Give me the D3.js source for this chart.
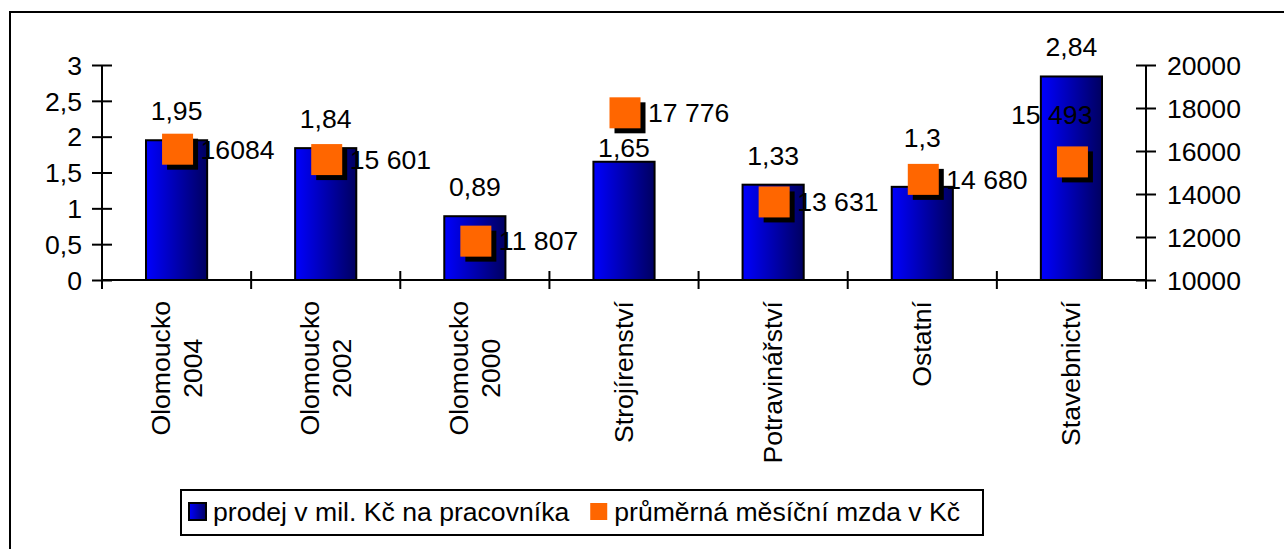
<!DOCTYPE html>
<html>
<head>
<meta charset="utf-8">
<script src="https://cdn.jsdelivr.net/npm/d3@7"></script>
<style>
  html, body { margin: 0; padding: 0; background: #fff; overflow: hidden; }
  svg text { font-family: "Liberation Sans", Arial, sans-serif; fill: #000; }
</style>
</head>
<body>
<div class="chart"></div>
<script>
// 데이터
const categories = ['Olomoucko\n2004', 'Olomoucko\n2002', 'Olomoucko\n2000', 'Strojírenství', 'Potravinářství', 'Ostatní', 'Stavebnictví'];
const sales = [1.95, 1.84, 0.89, 1.65, 1.33, 1.3, 2.84];
const wages = [16084, 15601, 11807, 17776, 13631, 14680, 15493];
const wageLabels = ['16084', '15 601', '11 807', '17 776', '13 631', '14 680', '15 493'];
const leftTicks = [0, 0.5, 1, 1.5, 2, 2.5, 3];
const rightTicks = [10000, 12000, 14000, 16000, 18000, 20000];
const seriesNames = ['prodej v mil. Kč na pracovníka', 'průměrná měsíční mzda v Kč'];

const W = 1284, H = 549;
const FontSize = 26.6;
const plot = {left: 102, right: 1146, top: 65, bottom: 280};
const markerSize = 31, shadowOff = 5;

const svg = d3.select('.chart').append('svg')
  .attr('width', W)
  .attr('height', H);

// 그라데이션 (막대)
const grad = svg.append('defs').append('linearGradient')
  .attr('id', 'barGrad')
  .attr('x1', '0%').attr('x2', '100%').attr('y1', '0%').attr('y2', '0%');
grad.append('stop').attr('offset', '0%').attr('stop-color', '#0000ff');
grad.append('stop').attr('offset', '100%').attr('stop-color', '#000060');

// 바깥 테두리
svg.append('rect')
  .attr('x', 10).attr('y', 12)
  .attr('width', W + 20).attr('height', H + 20)
  .attr('fill', 'none').attr('stroke', '#000').attr('stroke-width', 2);

/******************** 스케일 ********************/
const x = d3.scaleBand(d3.range(categories.length), [plot.left, plot.right]).padding(0);
const yL = d3.scaleLinear([0, 3], [plot.bottom, plot.top]);
const yR = d3.scaleLinear([10000, 20000], [plot.bottom, plot.top]);
const barW = x.bandwidth() * 0.41;
const cx = i => x(i) + x.bandwidth() / 2;

/******************** 막대 ********************/
svg.append('g')
  .selectAll('rect')
  .data(sales)
  .join('rect')
    .attr('x', (d, i) => cx(i) - barW / 2)
    .attr('y', d => yL(d))
    .attr('width', barW)
    .attr('height', d => yL(0) - yL(d))
    .attr('fill', 'url(#barGrad)')
    .attr('stroke', '#000')
    .attr('stroke-width', 2);

/******************** 축 ********************/
// x축 (눈금은 축을 가로지름)
const xAxis = svg.append('g');
xAxis.append('line')
  .attr('x1', plot.left).attr('x2', plot.right)
  .attr('y1', plot.bottom).attr('y2', plot.bottom)
  .attr('stroke', '#000').attr('stroke-width', 2);
xAxis.selectAll('line.tick')
  .data(d3.range(categories.length + 1))
  .join('line')
    .attr('class', 'tick')
    .attr('x1', i => plot.left + i * x.step())
    .attr('x2', i => plot.left + i * x.step())
    .attr('y1', plot.bottom - 9).attr('y2', plot.bottom + 9)
    .attr('stroke', '#000').attr('stroke-width', 2);

// 왼쪽 y축
svg.append('g')
    .attr('transform', `translate(${plot.left},0)`)
    .call(d3.axisLeft(yL).tickValues(leftTicks).tickSize(10).tickFormat(d => String(d).replace('.', ',')))
    .call(g => g.select('.domain').attr('d', `M0,${plot.top}V${plot.bottom + 9}`).attr('stroke-width', 2))
    .call(g => g.selectAll('.tick line').attr('x2', 10).attr('x1', -10).attr('stroke-width', 2))
    .call(g => g.selectAll('.tick text').attr('x', -20).attr('dy', '0.35em')
      .attr('font-size', FontSize).attr('font-family', null));

// 오른쪽 y축
svg.append('g')
    .attr('transform', `translate(${plot.right},0)`)
    .call(d3.axisRight(yR).tickValues(rightTicks).tickSize(10).tickFormat(d3.format('d')))
    .call(g => g.select('.domain').attr('d', `M0,${plot.top}V${plot.bottom + 9}`).attr('stroke-width', 2))
    .call(g => g.selectAll('.tick line').attr('x2', 10).attr('x1', -10).attr('stroke-width', 2))
    .call(g => g.selectAll('.tick text').attr('x', 21).attr('dy', '0.35em')
      .attr('font-size', FontSize).attr('font-family', null));

/******************** 범주 레이블 (세로) ********************/
const lineGap = 32;
categories.forEach((c, i) => {
  const lines = c.split('\n');
  const g = svg.append('g')
    .attr('transform', `translate(${cx(i)},301) rotate(-90)`);
  const texts = lines.map((l, k) => g.append('text')
    .attr('font-size', FontSize)
    .attr('text-anchor', 'middle')
    .attr('y', 9 + (k - (lines.length - 1) / 2) * lineGap)
    .text(l));
  const maxW = d3.max(texts, t => t.node().getComputedTextLength());
  texts.forEach(t => t.attr('x', -maxW / 2));
});

/******************** 마커 (그림자 + 사각형) ********************/
const markers = svg.append('g');
markers.selectAll('rect.shadow')
  .data(wages)
  .join('rect')
    .attr('class', 'shadow')
    .attr('x', (d, i) => cx(i) + 1 - markerSize / 2 + shadowOff)
    .attr('y', d => yR(d) - markerSize / 2 + shadowOff)
    .attr('width', markerSize).attr('height', markerSize)
    .attr('fill', '#000');
markers.selectAll('rect.mark')
  .data(wages)
  .join('rect')
    .attr('class', 'mark')
    .attr('x', (d, i) => cx(i) + 1 - markerSize / 2)
    .attr('y', d => yR(d) - markerSize / 2)
    .attr('width', markerSize).attr('height', markerSize)
    .attr('fill', '#ff6600');

/******************** 데이터 레이블 ********************/
// 마커 레이블: 오른쪽, 영역을 넘으면 위쪽
const wageText = svg.append('g').selectAll('text')
  .data(wageLabels)
  .join('text')
    .attr('font-size', FontSize)
    .attr('x', (d, i) => cx(i) + 24)
    .attr('y', (d, i) => yR(wages[i]))
    .attr('dy', '0.35em')
    .text(d => d);
wageText.each(function(d, i) {
  const w = this.getComputedTextLength();
  if (cx(i) + 24 + w > plot.right) {
    d3.select(this)
      .attr('text-anchor', 'end')
      .attr('x', cx(i) + 21)
      .attr('y', yR(wages[i]) - 38)
      .attr('dy', null);
  }
});

// 막대 레이블: 마커와 겹치면 위치 조정
svg.append('g').selectAll('text')
  .data(sales)
  .join('text')
    .attr('font-size', FontSize)
    .attr('text-anchor', 'middle')
    .attr('x', (d, i) => cx(i))
    .attr('y', (d, i) => {
      const top = yL(d);
      const my = yR(wages[i]);
      let base = top - 20;
      const mTop = my - markerSize / 2, mBot = my + markerSize / 2 + shadowOff;
      if (base > mTop && base - 19 < mBot) {
        // 마커 아래 공간이 있으면 막대 바로 위, 없으면 마커 위
        base = (mBot + 22 <= top) ? top - 5 : mTop - 17;
      }
      return base;
    })
    .text(d => String(d).replace('.', ','));

/******************** 범례 ********************/
const legend = svg.append('g');
legend.append('rect')
  .attr('x', 181).attr('y', 490)
  .attr('width', 802).attr('height', 45)
  .attr('fill', '#fff').attr('stroke', '#000').attr('stroke-width', 2);
let lx = 189;
seriesNames.forEach((name, i) => {
  legend.append('rect')
    .attr('x', lx).attr('y', 503)
    .attr('width', 17).attr('height', 17)
    .attr('fill', i === 0 ? 'url(#barGrad)' : '#ff6600')
    .attr('stroke', i === 0 ? '#000' : 'none')
    .attr('stroke-width', 2);
  const t = legend.append('text')
    .attr('x', lx + 24).attr('y', 521)
    .attr('font-size', FontSize)
    .text(name);
  lx += 24 + t.node().getComputedTextLength() + 21;
});
</script>
</body>
</html>
